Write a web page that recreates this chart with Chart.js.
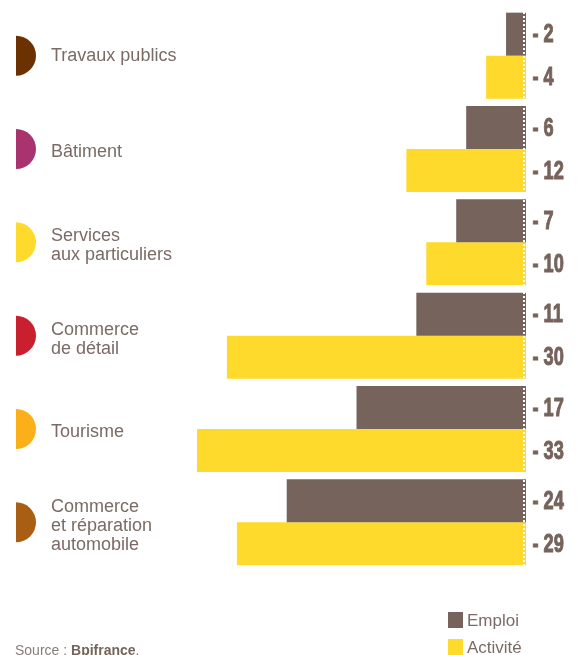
<!DOCTYPE html>
<html lang="fr">
<head>
<meta charset="utf-8">
<script src="https://cdn.jsdelivr.net/npm/chart.js@4/dist/chart.umd.min.js"></script>
<style>
  html, body { margin: 0; padding: 0; background: #ffffff; }
  #wrap { width: 588px; height: 655px; position: relative; }
</style>
</head>
<body>
<div id="wrap"><canvas id="c" width="588" height="655"></canvas></div>
<script>
// Sector names (each line of a multi-line label is one entry)
const categories = [
  ['Travaux publics'],
  ['Bâtiment'],
  ['Services', 'aux particuliers'],
  ['Commerce', 'de détail'],
  ['Tourisme'],
  ['Commerce', 'et réparation', 'automobile']
];
// Marker colour per sector
const sectorColors = ['#6b3100', '#a8336e', '#fdda2b', '#c8202f', '#fbb019', '#a85f14'];

// Change, in points
const emploi   = [-2, -6, -7, -11, -17, -24];
const activite = [-4, -12, -10, -30, -33, -29];

const seriesNames = ['Emploi', 'Activité'];
const seriesColors = ['#76635b', '#fdda2b'];

const TEXT = '#7b6b65';

const decorations = {
  id: 'decorations',
  afterDatasetsDraw(chart) {
    const { ctx, chartArea, scales } = chart;
    const xs = scales.x, ys = scales.y;
    const zeroX = Math.round(xs.getPixelForValue(0));

    // white dotted rule along the zero line
    ctx.save();
    ctx.strokeStyle = '#ffffff';
    ctx.lineWidth = 2;
    ctx.setLineDash([2, 2]);
    ctx.beginPath();
    ctx.moveTo(zeroX - 2, chartArea.top + 3);
    ctx.lineTo(zeroX - 2, chartArea.bottom - 3);
    ctx.stroke();
    ctx.restore();

    // value labels to the right of each bar, set in a condensed heavy face
    ctx.save();
    ctx.fillStyle = '#76635b';
    ctx.strokeStyle = '#76635b';
    ctx.lineWidth = 1;
    ctx.lineJoin = 'round';
    ctx.font = 'bold 26px "Liberation Sans", Arial, sans-serif';
    ctx.textBaseline = 'middle';
    ctx.textAlign = 'left';
    const squeeze = 0.7;
    chart.data.datasets.forEach((ds, di) => {
      const meta = chart.getDatasetMeta(di);
      meta.data.forEach((bar, i) => {
        const v = ds.data[i];
        const txt = (v < 0 ? '- ' : '') + Math.abs(v);
        ctx.save();
        ctx.translate(532.5, bar.y + 1);
        ctx.scale(squeeze, 1);
        ctx.fillText(txt, 0, 0);
        ctx.strokeText(txt, 0, 0);
        ctx.restore();
      });
    });
    ctx.restore();

    // sector markers and names on the left
    ctx.save();
    ctx.font = '18px "Liberation Sans", Arial, sans-serif';
    ctx.fillStyle = TEXT;
    ctx.textBaseline = 'middle';
    ctx.textAlign = 'left';
    categories.forEach((lines, i) => {
      const cy = ys.getPixelForValue(i);
      ctx.fillStyle = sectorColors[i];
      ctx.beginPath();
      ctx.arc(16, cy, 20, -Math.PI / 2, Math.PI / 2);
      ctx.closePath();
      ctx.fill();
      ctx.fillStyle = TEXT;
      const lh = 19;
      const shift = i === 0 ? 0 : 3.5;
      const start = cy + shift - (lines.length - 1) * lh / 2;
      lines.forEach((ln, k) => ctx.fillText(ln, 51, start + k * lh));
    });
    ctx.restore();

    // legend, bottom right
    ctx.save();
    ctx.font = '17px "Liberation Sans", Arial, sans-serif';
    ctx.textBaseline = 'middle';
    seriesNames.forEach((name, k) => {
      const y = 612 + k * 27;
      ctx.fillStyle = seriesColors[k];
      ctx.fillRect(448, y, 15, 16);
      ctx.fillStyle = TEXT;
      ctx.fillText(name, 467, y + 9);
    });
    ctx.restore();

    // source line
    ctx.save();
    ctx.textBaseline = 'alphabetic';
    ctx.fillStyle = '#8a7d78';
    ctx.font = '14px "Liberation Sans", Arial, sans-serif';
    const s1 = 'Source : ';
    ctx.fillText(s1, 15, 655);
    const w1 = ctx.measureText(s1).width;
    ctx.fillStyle = '#76635b';
    ctx.font = 'bold 14px "Liberation Sans", Arial, sans-serif';
    ctx.fillText('Bpifrance', 15 + w1, 655);
    const w2 = ctx.measureText('Bpifrance').width;
    ctx.fillStyle = '#8a7d78';
    ctx.font = '14px "Liberation Sans", Arial, sans-serif';
    ctx.fillText('.', 15 + w1 + w2, 655);
    ctx.restore();
  }
};

new Chart(document.getElementById('c'), {
  type: 'bar',
  data: {
    labels: categories.map(l => l.join(' ')),
    datasets: [
      { label: seriesNames[0], data: emploi, backgroundColor: seriesColors[0] },
      { label: seriesNames[1], data: activite, backgroundColor: seriesColors[1] }
    ]
  },
  options: {
    indexAxis: 'y',
    responsive: false,
    animation: false,
    events: [],
    datasets: { bar: { categoryPercentage: 0.922, barPercentage: 1.0, borderWidth: 0 } },
    layout: { padding: { left: 197, right: 62, top: 9, bottom: 86 } },
    scales: {
      x: { min: -33, max: 0, display: false },
      y: { display: false }
    },
    plugins: { legend: { display: false }, tooltip: { enabled: false } }
  },
  plugins: [decorations]
});
</script>
</body>
</html>
